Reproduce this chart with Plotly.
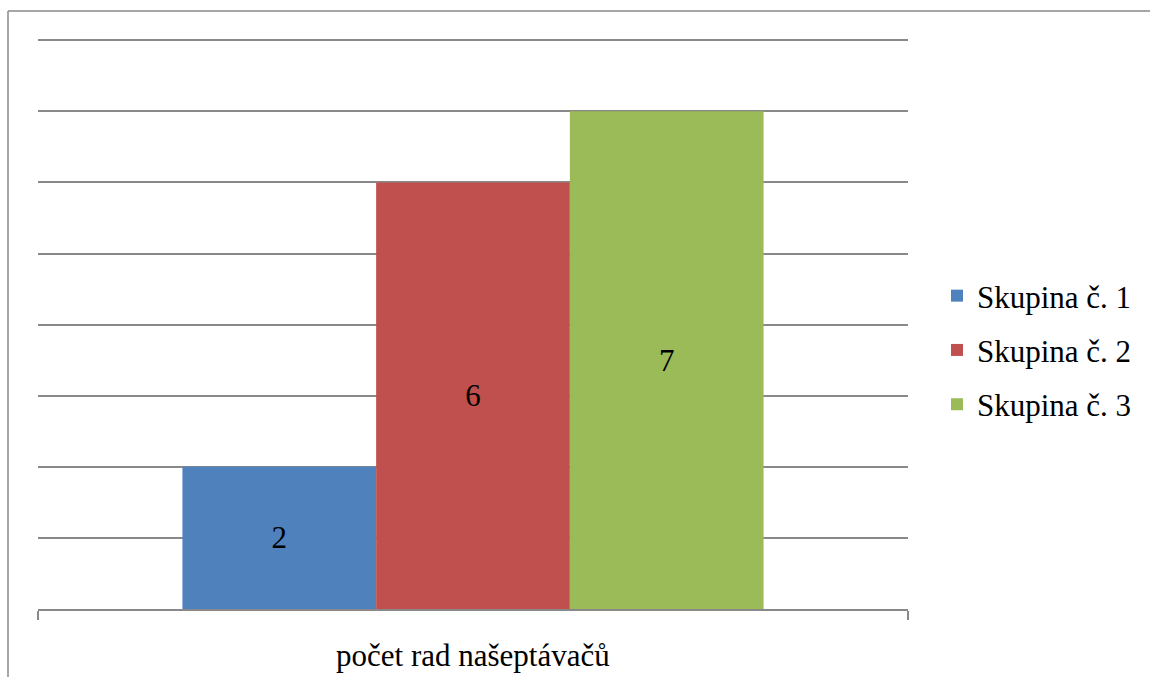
import plotly.graph_objects as go

# Data
category = ["počet rad našeptávačů"]
groups = ["Skupina č. 1", "Skupina č. 2", "Skupina č. 3"]
values = [2, 6, 7]
colors = ["#4F81BD", "#C0504D", "#9BBB59"]

FONT = "Liberation Serif"
GRID = "#898989"
FS = 31

fig = go.Figure()
for i, (name, val, col) in enumerate(zip(groups, values, colors)):
    fig.add_trace(go.Bar(
        x=category, y=[val], name=name,
        marker=dict(color=col, line=dict(width=0)),
        text=[str(val)], textposition="inside", insidetextanchor="middle",
        textfont=dict(family=FONT, size=FS, color="black"),
        legendgroup=f"g{i}",
    ))

# Plot area: value 0 at y=609 px, value 8 at y=40 px; the y range is
# padded slightly above 8 so the top gridline is drawn.
W, H = 1150, 677
Y_TOP = 8.2
unit = (609 - 40) / 8.0
ml, mr, mb = 38, 242, 68
mt = round(40 - (Y_TOP - 8) * unit)
pw, ph = W - ml - mr, H - mt - mb

def px_x(x):
    return (x - ml) / pw

def px_y(y):
    return (H - mb - y) / ph

fig.update_layout(
    width=W, height=H,
    margin=dict(l=ml, r=mr, t=mt, b=mb, pad=0, autoexpand=False),
    paper_bgcolor="white", plot_bgcolor="white",
    barmode="group", bargap=0.332, bargroupgap=0,
    font=dict(family=FONT, size=FS, color="black"),
    showlegend=True,
    legend=dict(
        x=px_x(937), y=px_y(350), xanchor="left", yanchor="middle",
        font=dict(family=FONT, size=FS, color="black"),
        traceorder="grouped", tracegroupgap=11,
        bgcolor="rgba(0,0,0,0)", itemwidth=30,
    ),
    xaxis=dict(
        showline=True, linecolor=GRID, linewidth=1.5,
        ticks="outside", tickson="boundaries", ticklen=9,
        tickcolor=GRID, tickwidth=1.5,
        showgrid=False, showticklabels=False, automargin=False,
    ),
    yaxis=dict(
        range=[0, Y_TOP], dtick=1, tick0=0, showticklabels=False,
        showgrid=True, gridcolor=GRID, gridwidth=1.5,
        zeroline=False, showline=False, ticks="", automargin=False,
    ),
    annotations=[
        dict(text=category[0], xref="paper", yref="paper",
             x=0.5, y=px_y(655), xanchor="center", yanchor="middle",
             showarrow=False, font=dict(family=FONT, size=FS, color="black")),
    ],
    shapes=[
        dict(type="line", xref="paper", yref="paper",
             x0=px_x(8), x1=px_x(8), y0=px_y(H + 5), y1=px_y(11),
             line=dict(color=GRID, width=1.5)),
        dict(type="line", xref="paper", yref="paper",
             x0=px_x(8), x1=px_x(W + 5), y0=px_y(11), y1=px_y(11),
             line=dict(color=GRID, width=1.5)),
    ],
)

fig.write_html("out.html")
